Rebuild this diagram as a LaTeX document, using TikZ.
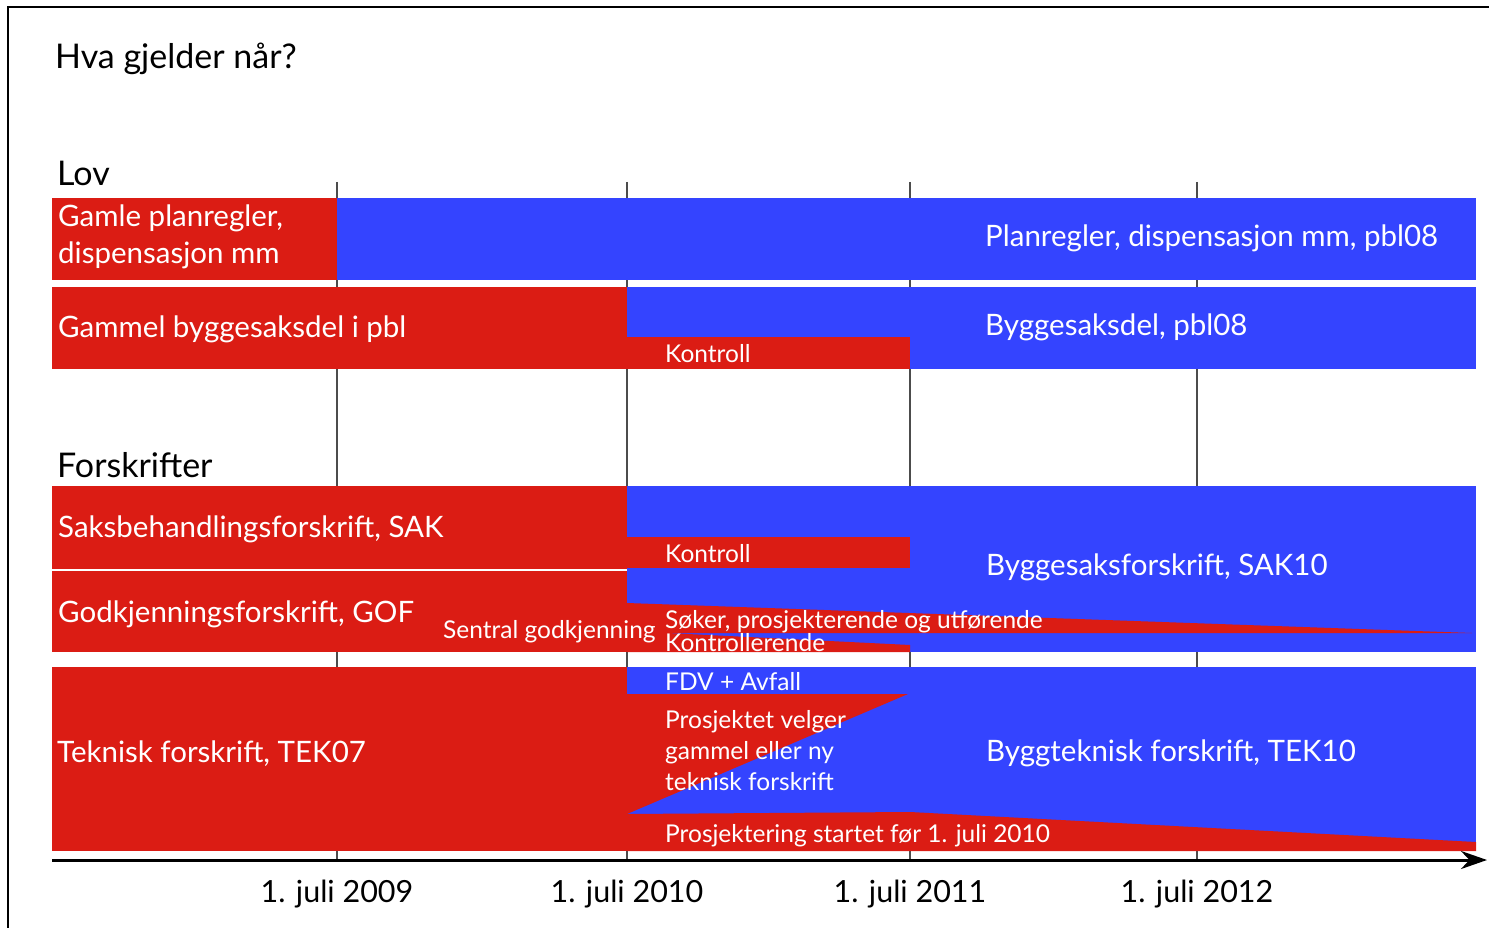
\documentclass[tikz,border=0pt]{standalone}
\usepackage{fontspec}
\setmainfont{Lato}
\usetikzlibrary{arrows.meta}
\definecolor{bred}{RGB}{219,28,20}
\definecolor{bblue}{RGB}{52,68,255}
\tikzset{
  redbar/.style={fill=bred,draw=none},
  bluebar/.style={fill=bblue,draw=none},
  grid/.style={draw=black!70,line width=1.2pt},
  big/.style={text=white,font=\fontsize{29.5}{34}\selectfont,anchor=base west,inner sep=0pt},
  small/.style={text=white,font=\fontsize{24.5}{28}\selectfont,anchor=base west,inner sep=0pt},
  head/.style={text=black,font=\fontsize{34}{38}\selectfont,anchor=base west,inner sep=0pt},
  axlab/.style={text=black,font=\fontsize{30.5}{36}\selectfont,anchor=base,inner sep=0pt},
}
\begin{document}
\begin{tikzpicture}[x=1pt,y=-1pt]
\useasboundingbox (0,0) rectangle (1489,928);
% frame
\draw[line width=1.5pt] (8,928) -- (8,7) -- (1489,7);
% grid lines
\foreach \gx/\nm in {337/a,627/b,910/c,1197/d}{
  \coordinate (gt\nm) at (\gx,182);
  \coordinate (gb\nm) at (\gx,860);
  \draw[grid] (gt\nm) -- (gb\nm);
}
% Row 1
\fill[redbar] (52,198) rectangle (337,280);
\fill[bluebar] (337,198) rectangle (1476,280);
% Row 2
\fill[redbar] (52,287) rectangle (627,369);
\fill[bluebar] (627,287) rectangle (1476,369);
\fill[redbar] (627,337) rectangle (910,369);
% Row 3
\fill[redbar] (52,486) rectangle (627,652);
\fill[bluebar] (627,486) rectangle (1476,652);
\fill[redbar] (627,537) rectangle (910,568);
\draw[white,line width=1.5pt] (52,570) -- (627,570);
\fill[redbar] (627,603) -- (1472,633) -- (627,633) -- cycle;
\fill[redbar] (627,631) -- (910,645) -- (910,652) -- (627,652) -- cycle;
% Row 4
\fill[redbar] (52,667) rectangle (627,851);
\fill[bluebar] (627,667) rectangle (1476,851);
\fill[redbar] (627,694) -- (908,694) -- (627,814) -- cycle;
\fill[redbar] (627,814) -- (910,812) -- (1476,842) -- (1476,851) -- (627,851) -- cycle;
% axis
\coordinate (ax0) at (52,860);
\coordinate (ax1) at (1487,860);
\draw[line width=3pt,-{Stealth[length=26pt,width=18pt]}] (ax0) -- (ax1);
% texts
\node[head] (title) at (55,69) {Hva gjelder når?};
\node[head] (lov) at (57,186) {Lov};
\node[head] (forsk) at (57,477) {Forskrifter};
\node[big] (t1a) at (58,227) {Gamle planregler,};
\node[big] (t1b) at (58,264) {dispensasjon mm};
\node[big] (t1c) at (985,247) {Planregler, dispensasjon mm, pbl08};
\node[big] (t2a) at (58,337) {Gammel byggesaksdel i pbl};
\node[big] (t2b) at (985,335) {Byggesaksdel, pbl08};
\node[small] (t2c) at (665,362) {Kontroll};
\node[big] (t3a) at (58,537) {Saksbehandlingsforskrift, SAK};
\node[small] (t3b) at (665,562) {Kontroll};
\node[big] (t3c) at (986,575) {Byggesaksforskrift, SAK10};
\node[big] (t3d) at (58,622) {Godkjenningsforskrift, GOF};
\node[small] (t3e) at (443,638) {Sentral godkjenning};
\node[small] (t3f) at (665,628) {Søker, prosjekterende og utførende};
\node[small] (t3g) at (665,651) {Kontrollerende};
\node[small] (t4a) at (665,690) {FDV + Avfall};
\node[small] (t4b) at (665,728) {Prosjektet velger};
\node[small] (t4c) at (665,759) {gammel eller ny};
\node[small] (t4d) at (665,790) {teknisk forskrift};
\node[big] (t4e) at (57,762) {Teknisk forskrift, TEK07};
\node[big] (t4f) at (986,761) {Byggteknisk forskrift, TEK10};
\node[small] (t4g) at (665,842) {Prosjektering startet før 1. juli 2010};
\node[axlab] (l1) at (337,902) {1. juli 2009};
\node[axlab] (l2) at (627,902) {1. juli 2010};
\node[axlab] (l3) at (910,902) {1. juli 2011};
\node[axlab] (l4) at (1197,902) {1. juli 2012};
\end{tikzpicture}
\end{document}
